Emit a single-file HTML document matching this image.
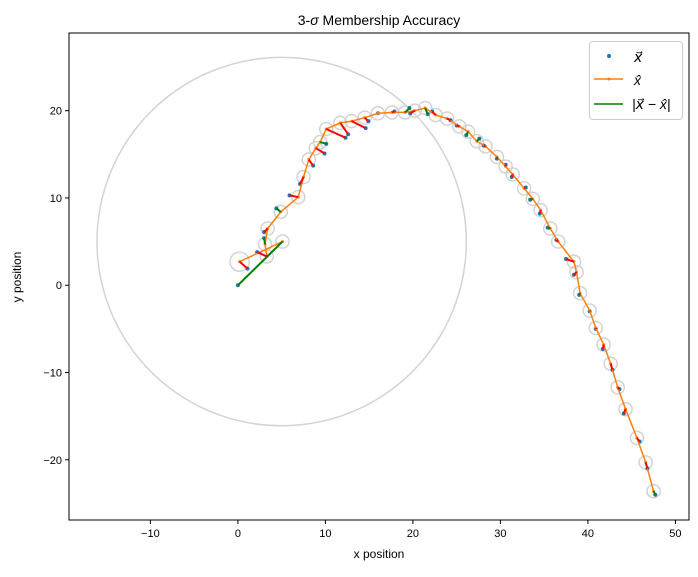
<!DOCTYPE html>
<html><head><meta charset="utf-8"><style>
body{margin:0;background:#fff}
svg text{font-family:"Liberation Sans","DejaVu Sans",sans-serif;fill:#000}
</style></head><body>
<svg id="chart" width="698" height="572" xmlns="http://www.w3.org/2000/svg">
<rect width="698" height="572" fill="#fff"/>
<text x="379" y="25" font-size="14" text-anchor="middle">3-<tspan font-style="italic">σ</tspan> Membership Accuracy</text>
<g id="plot"></g>
<g id="axes"></g>
<text x="379" y="558" font-size="12" text-anchor="middle">x position</text>
<text x="21" y="277" font-size="12" text-anchor="middle" transform="rotate(-90 21 277)">y position</text>
<g>
<rect x="589.5" y="41.5" width="93" height="78" rx="3" fill="#fff" stroke="#ccc"/>
<circle cx="609" cy="56" r="2" fill="#1f77b4"/>
<text x="634" y="62" font-size="14" font-style="italic">x⃗</text>
<line x1="594" y1="79" x2="623" y2="79" stroke="#ff7f0e" stroke-width="1.5"/>
<circle cx="609" cy="79" r="1.5" fill="#ff7f0e"/>
<text x="634" y="85" font-size="14" font-style="italic">x̂</text>
<line x1="594" y1="104" x2="623" y2="104" stroke="#008000" stroke-width="1.5"/>
<text x="632" y="109" font-size="14" font-style="italic">|x⃗ − x̂|</text>
</g>
</svg>
<script>
const estX=[0.2,5.1,3.3,3.1,3.4,4.9,6.9,7.5,8.1,8.9,9.4,10.1,11.7,13.0,14.5,16.0,17.6,19.1,20.2,21.4,22.6,23.9,25.3,26.3,27.3,28.3,29.6,30.6,31.4,32.7,33.7,34.6,35.7,36.6,38.4,38.7,39.1,40.2,40.9,41.8,42.6,43.4,44.3,45.6,46.6,47.5];
const estY=[2.7,5.0,3.3,4.7,6.5,8.4,10.1,12.4,14.4,15.7,16.4,17.9,18.6,18.8,19.2,19.7,19.8,19.8,20.0,20.3,19.5,19.1,18.2,17.6,16.5,15.9,14.7,13.6,12.7,11.1,9.9,8.6,6.5,5.0,2.7,1.5,-0.9,-2.9,-4.9,-6.8,-9.0,-11.7,-14.2,-17.5,-20.3,-23.6];
const trueX=[1.1,0.0,2.2,3.0,3.0,4.4,5.9,7.1,8.6,9.9,10.1,12.3,12.6,14.6,14.9,16.0,17.9,19.6,19.7,21.7,22.2,24.3,25.0,26.1,27.6,28.1,29.6,30.6,31.3,32.9,33.4,34.5,35.4,36.4,37.5,38.4,39.0,40.2,40.9,41.7,42.8,43.6,44.1,45.9,46.8,47.7];
const trueY=[1.9,0.0,3.8,5.4,6.1,8.8,10.3,11.6,13.7,15.1,16.2,16.9,17.3,18.0,18.8,19.7,19.9,20.3,19.7,19.6,19.9,18.9,18.3,17.2,16.8,16.0,14.5,13.8,12.4,11.2,9.8,8.2,6.6,5.2,3.0,1.2,-1.1,-3.0,-5.0,-7.3,-9.7,-11.9,-14.7,-17.9,-21.0,-24.0];
const errColor=["r","g","r","g","r","g","r","r","r","r","g","r","r","r","r","g","r","g","r","g","r","r","r","g","g","r","g","r","r","r","g","r","g","r","r","r","g","g","r","r","r","r","r","r","r","g"];
const xTicks=[-10,0,10,20,30,40,50];
const yTicks=[-20,-10,0,10,20];
const circleCenter=[5,5], circleRadius=21.1, unc=0.75;
const L=69,R=689,T=33,B=520,x0=-19.3,x1=51.55,y0=-26.9,y1=28.9;
const sx=v=>L+(v-x0)/(x1-x0)*(R-L);
const sy=v=>B-(v-y0)/(y1-y0)*(B-T);
const NS="http://www.w3.org/2000/svg";
const plot=document.getElementById('plot'),axes=document.getElementById('axes');
function mk(p,tag,a){const e=document.createElementNS(NS,tag);for(const k in a)e.setAttribute(k,a[k]);p.appendChild(e);return e;}
const big=mk(plot,'ellipse',{cx:sx(circleCenter[0]),cy:sy(circleCenter[1]),rx:sx(circleRadius)-sx(0),ry:sy(0)-sy(circleRadius),fill:'none',stroke:'#d3d3d3','stroke-width':1.5});


estX.forEach((v,i)=>{const r=(i===0?1.1:unc);
 const c=mk(plot,'ellipse',{cx:sx(v),cy:sy(estY[i]),rx:sx(r)-sx(0),ry:sy(0)-sy(r),fill:'none',stroke:'#d3d3d3','stroke-width':1.5});
 
 });
trueX.forEach((v,i)=>{const p=mk(plot,'circle',{cx:sx(v),cy:sy(trueY[i]),r:2,fill:'#1f77b4'});
 
 });
const line=mk(plot,'polyline',{points:estX.map((v,i)=>sx(v)+','+sy(estY[i])).join(' '),fill:'none',stroke:'#ff7f0e','stroke-width':1.5});


estX.forEach((v,i)=>{const p=mk(plot,'circle',{cx:sx(v),cy:sy(estY[i]),r:1.5,fill:'#ff7f0e'});
 
 });
estX.forEach((v,i)=>{const l=mk(plot,'line',{x1:sx(v),y1:sy(estY[i]),x2:sx(trueX[i]),y2:sy(trueY[i]),stroke:errColor[i]==='r'?'#ff0000':'#008000','stroke-width':2});
 
 });
const fr=mk(axes,'rect',{x:L,y:T,width:R-L,height:B-T,fill:'none',stroke:'#000','stroke-width':1});


xTicks.forEach(t=>{const x=sx(t);mk(axes,'line',{x1:x,y1:B,x2:x,y2:B+4,stroke:'#000'});
 const tx=mk(axes,'text',{x:x,y:B+17,'font-size':11,'text-anchor':'middle'});tx.textContent=(t<0?'−':'')+Math.abs(t);
 
 });
yTicks.forEach(t=>{const y=sy(t);mk(axes,'line',{x1:L-4,y1:y,x2:L,y2:y,stroke:'#000'});
 const tx=mk(axes,'text',{x:L-7,y:y+4,'font-size':11,'text-anchor':'end'});tx.textContent=(t<0?'−':'')+Math.abs(t);
 
 });
</script>
</body></html>
